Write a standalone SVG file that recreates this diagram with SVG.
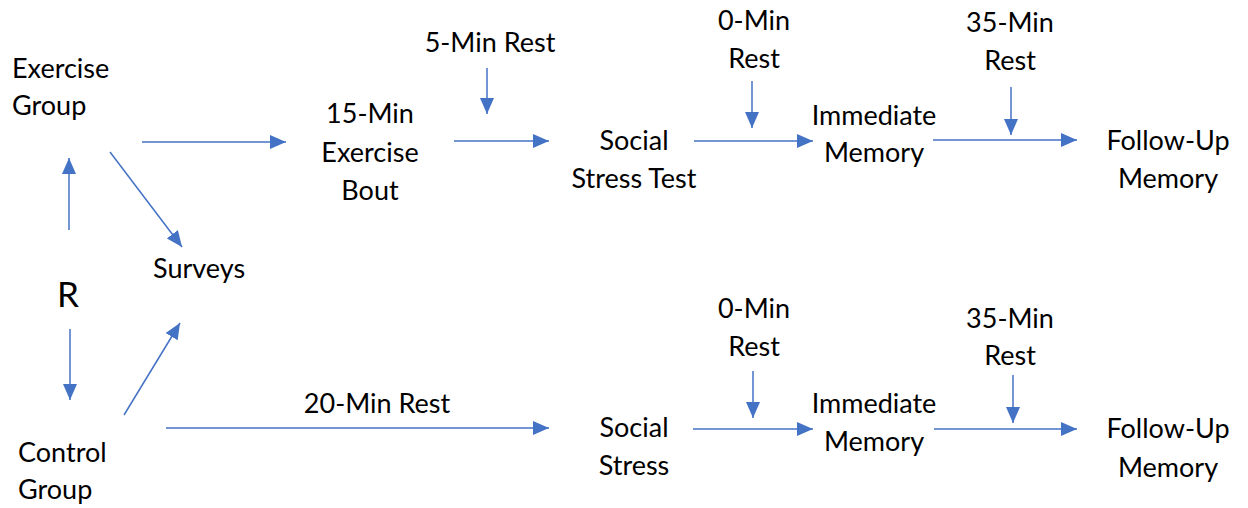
<svg xmlns="http://www.w3.org/2000/svg" width="1248" height="508" viewBox="0 0 1248 508">
<style>
  text { font-family: Lato, "Liberation Sans", sans-serif; font-size: 27px; fill: #000; }
  .c { text-anchor: middle; }
  .big { font-size: 35px; }
  .edge { stroke: #4472C4; stroke-width: 1.5; fill: none; marker-end: url(#ah); }
</style>
<defs>
  <marker id="ah" markerUnits="userSpaceOnUse" markerWidth="16" markerHeight="14" refX="16" refY="7" orient="auto">
    <path d="M0,0 L16,7 L0,14 z" fill="#4472C4"/>
  </marker>
</defs>
<rect width="1248" height="508" fill="#fff"/>

<g id="exercise-group"><text x="12" y="78">Exercise</text><text x="12" y="115">Group</text></g>
<g id="r"><text class="c big" x="68" y="307">R</text></g>
<g id="control-group"><text x="18" y="462">Control</text><text x="18" y="499">Group</text></g>
<g id="surveys"><text x="153" y="278">Surveys</text></g>

<g id="exercise-bout"><text class="c" x="370" y="123">15-Min</text><text class="c" x="370" y="162">Exercise</text><text class="c" x="370" y="200">Bout</text></g>
<g id="rest5"><text class="c" x="490" y="52">5-Min Rest</text></g>
<g id="sst-top"><text class="c" x="634" y="150">Social</text><text class="c" x="634" y="188">Stress Test</text></g>
<g id="rest0-top"><text class="c" x="754" y="30">0-Min</text><text class="c" x="754" y="68">Rest</text></g>
<g id="imm-top"><text class="c" x="874" y="125">Immediate</text><text class="c" x="874" y="162">Memory</text></g>
<g id="rest35-top"><text class="c" x="1010" y="32">35-Min</text><text class="c" x="1010" y="70">Rest</text></g>
<g id="fu-top"><text class="c" x="1168" y="150">Follow-Up</text><text class="c" x="1168" y="188">Memory</text></g>

<g id="rest20"><text class="c" x="377" y="413">20-Min Rest</text></g>
<g id="ss-bottom"><text class="c" x="634" y="437">Social</text><text class="c" x="634" y="475">Stress</text></g>
<g id="rest0-bottom"><text class="c" x="754" y="318">0-Min</text><text class="c" x="754" y="356">Rest</text></g>
<g id="imm-bottom"><text class="c" x="874" y="413">Immediate</text><text class="c" x="874" y="451">Memory</text></g>
<g id="rest35-bottom"><text class="c" x="1010" y="328">35-Min</text><text class="c" x="1010" y="365">Rest</text></g>
<g id="fu-bottom"><text class="c" x="1168" y="438">Follow-Up</text><text class="c" x="1168" y="477">Memory</text></g>

<g id="connectors">
  <line class="edge" x1="69" y1="230" x2="69" y2="158"/>
  <line class="edge" x1="70" y1="329" x2="70" y2="400"/>
  <line class="edge" x1="110" y1="152" x2="182" y2="247"/>
  <line class="edge" x1="124" y1="415" x2="180" y2="323"/>
  <line class="edge" x1="142" y1="142" x2="286" y2="142"/>
  <line class="edge" x1="487" y1="68" x2="487" y2="114"/>
  <line class="edge" x1="454" y1="141" x2="549" y2="141"/>
  <line class="edge" x1="752" y1="81" x2="752" y2="128"/>
  <line class="edge" x1="694" y1="141" x2="813" y2="141"/>
  <line class="edge" x1="1011" y1="87" x2="1011" y2="135"/>
  <line class="edge" x1="933" y1="140" x2="1077" y2="140"/>
  <line class="edge" x1="166" y1="428" x2="549" y2="428"/>
  <line class="edge" x1="753" y1="371" x2="753" y2="418"/>
  <line class="edge" x1="693" y1="429" x2="813" y2="429"/>
  <line class="edge" x1="1013" y1="375" x2="1013" y2="423"/>
  <line class="edge" x1="934" y1="429" x2="1077" y2="429"/>
</g>
</svg>
